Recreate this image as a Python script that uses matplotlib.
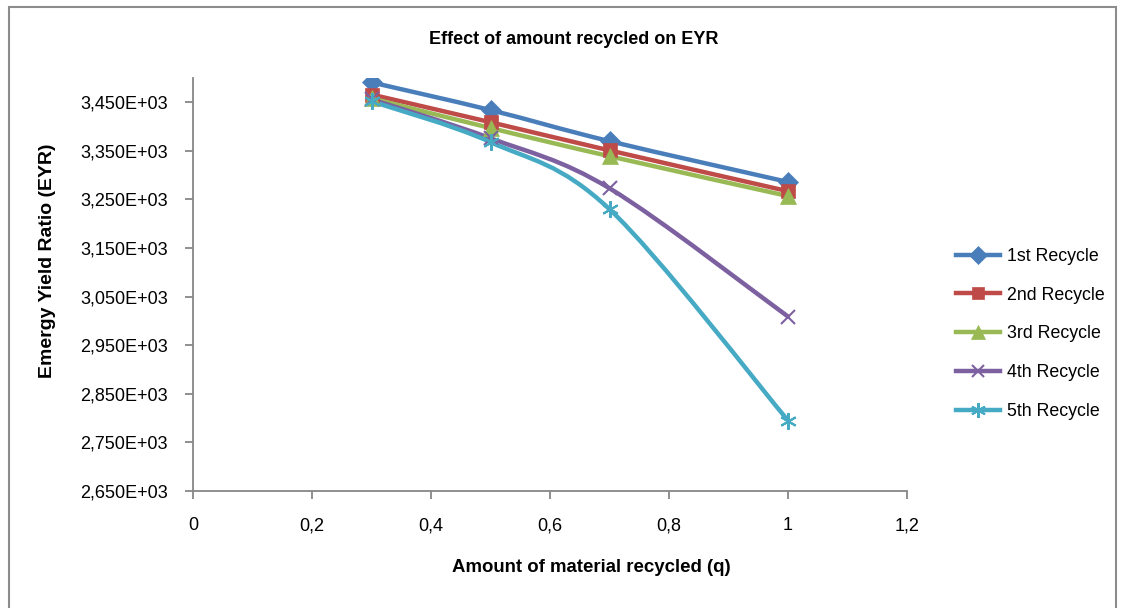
import numpy as np
import matplotlib.pyplot as plt
from matplotlib.path import Path
from matplotlib.patches import PathPatch, Rectangle
from matplotlib.lines import Line2D
from matplotlib.ticker import FuncFormatter

plt.rcParams["font.family"] = ["Liberation Sans", "DejaVu Sans"]

# data
q = [0.3, 0.5, 0.7, 1.0]
eyr_1st = [3491, 3434, 3370, 3286]
eyr_2nd = [3466, 3409, 3351, 3267]
eyr_3rd = [3458, 3397, 3339, 3257]
eyr_4th = [3456, 3376, 3273, 3009]
eyr_5th = [3452, 3368, 3230, 2795]
series_names = ["1st Recycle", "2nd Recycle", "3rd Recycle", "4th Recycle", "5th Recycle"]
x_ticks = [0, 0.2, 0.4, 0.6, 0.8, 1.0, 1.2]
y_ticks = [2650, 2750, 2850, 2950, 3050, 3150, 3250, 3350, 3450]

colors = ["#4A7EBB", "#BE4B48", "#98B954", "#7D60A0", "#46AAC5"]
markers = ["D", "s", "^", "x", (6, 2, 0)]
msizes = [10, 10, 11, 10, 12]


def smooth_path(x, y, tension=1 / 6):
    # Excel-style smoothed line: cubic Bezier segments through the points
    x, y = np.asarray(x, float), np.asarray(y, float)
    n = len(x)
    verts = [(x[0], y[0])]
    codes = [Path.MOVETO]
    for i in range(n - 1):
        p0 = (x[max(i - 1, 0)], y[max(i - 1, 0)])
        p1 = (x[i], y[i])
        p2 = (x[i + 1], y[i + 1])
        p3 = (x[min(i + 2, n - 1)], y[min(i + 2, n - 1)])
        c1 = (p1[0] + (p2[0] - p0[0]) * tension, p1[1] + (p2[1] - p0[1]) * tension)
        c2 = (p2[0] - (p3[0] - p1[0]) * tension, p2[1] - (p3[1] - p1[1]) * tension)
        verts += [c1, c2, p2]
        codes += [Path.CURVE4] * 3
    return Path(verts, codes)


fig = plt.figure(figsize=(11.22, 6.08), dpi=100)
ax = fig.add_axes([193 / 1122, 1 - 491 / 608, (907 - 193) / 1122, (491 - 78) / 608])

all_series = [eyr_1st, eyr_2nd, eyr_3rd, eyr_4th, eyr_5th]
handles = []
for vals, name, c, m, ms in zip(all_series, series_names, colors, markers, msizes):
    mew = 1.5 if (m == "x" or isinstance(m, tuple)) else 0.5
    patch = PathPatch(smooth_path(q, vals), facecolor="none", edgecolor=c,
                      lw=3.2, capstyle="round", joinstyle="round")
    ax.add_patch(patch)
    ax.plot(q, vals, linestyle="none", marker=m, color=c, markersize=ms,
            markeredgewidth=mew, markeredgecolor=c)
    handles.append(Line2D([], [], color=c, lw=3.2, marker=m, markersize=ms * 0.9,
                          markeredgecolor=c, markeredgewidth=mew))

ax.set_xlim(0, 1.2)
ax.set_ylim(2650, 3500)
ax.set_xticks(x_ticks)
ax.set_yticks(y_ticks)
ax.xaxis.set_major_formatter(FuncFormatter(lambda v, p: ("%g" % v).replace(".", ",")))
ax.yaxis.set_major_formatter(FuncFormatter(lambda v, p: ("%.3fE+03" % (v / 1000)).replace(".", ",")))

for side in ("top", "right"):
    ax.spines[side].set_visible(False)
for side in ("left", "bottom"):
    ax.spines[side].set_color("#878787")
    ax.spines[side].set_linewidth(1.3)
ax.tick_params(axis="both", colors="#878787", length=6, width=1.3, labelsize=13,
               labelcolor="black")
ax.tick_params(axis="x", pad=13)
ax.tick_params(axis="y", pad=12)

fig.text(591 / 1122, 1 - 568 / 608, "Amount of material recycled (q)", ha="center",
         va="center", fontsize=13.4, fontweight="bold")
fig.text(48 / 1122, 1 - 261 / 608, "Emergy Yield Ratio (EYR)", ha="center",
         va="center", rotation=90, fontsize=14, fontweight="bold")
fig.text(574 / 1122, 1 - 39 / 608, "Effect of amount recycled on EYR", ha="center",
         va="center", fontsize=13, fontweight="bold")

fig.legend(handles, series_names, loc="upper left", bbox_to_anchor=(940 / 1122, 1 - 232 / 608),
           frameon=False, fontsize=12.8, handlelength=2.5, labelspacing=1.22,
           handletextpad=0.35)

fig.patches.append(Rectangle((9 / 1122, -0.1), (1116 - 9) / 1122, 1.1 - 7 / 608,
                             transform=fig.transFigure, fill=False, edgecolor="#8c8c8c",
                             lw=1.5, clip_on=False))

fig.savefig("out.png", dpi=100)
